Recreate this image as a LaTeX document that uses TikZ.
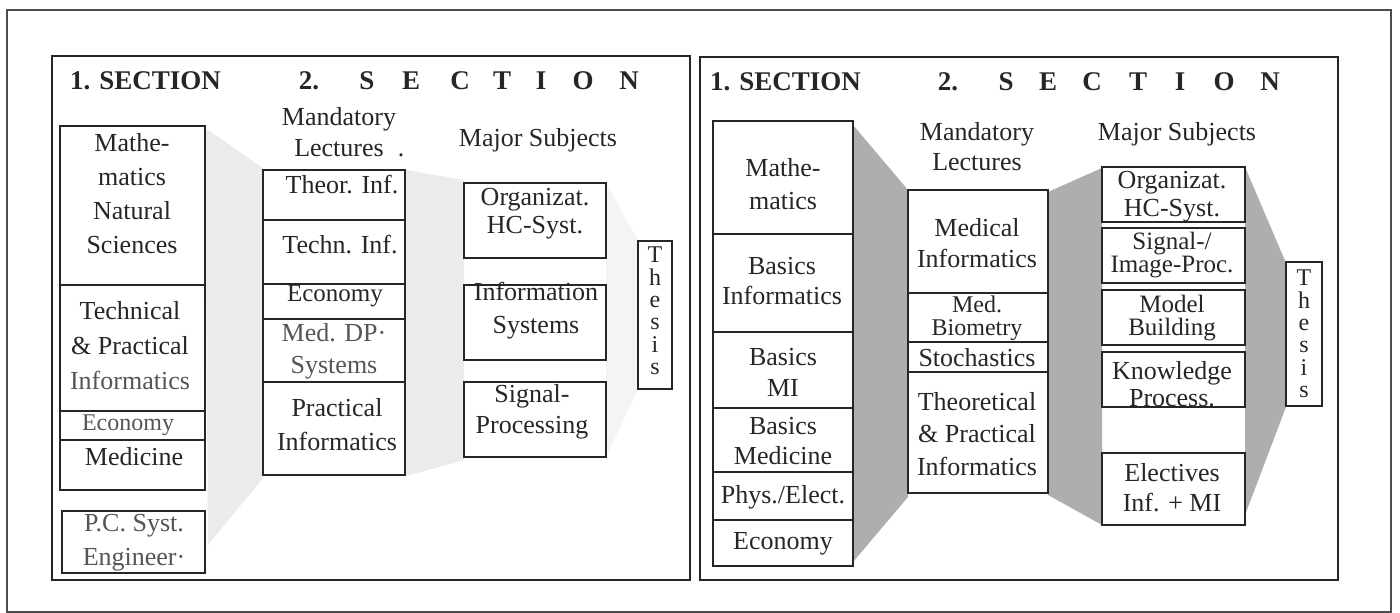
\documentclass[tikz,border=0pt]{standalone}
\usepackage{fontspec}
\setmainfont{Liberation Serif}
\newcommand\fsz[2]{\fontsize{#1}{#2}\selectfont}
\definecolor{ink}{HTML}{262626}
\definecolor{lightink}{HTML}{555555}
\definecolor{stipc}{HTML}{AEAEAE}
\definecolor{faintc}{HTML}{EBEBEB}
\definecolor{faintc2}{HTML}{F4F4F4}
\newcommand\bx[5]{\node[cell,minimum width={#4-#2},minimum height={#5-#3}] (#1) at ({(#2+#4)/2},{(#3+#5)/2}) {};}
\begin{document}
\begin{tikzpicture}[x=1pt,y=-1pt,
 cell/.style={draw=ink,line width=1.8pt,fill=white,inner sep=0pt},
 txt/.style={inner sep=0pt,align=center,text=ink,font=\fsz{26}{31}},
 hdr/.style={inner sep=0pt,anchor=base,text=ink,font=\bfseries\fsz{27}{30}},
 panel/.style={draw=ink,line width=1.8pt},
 stip/.style={fill=stipc},
 faint/.style={fill=faintc}]
\useasboundingbox (0,0) rectangle (1400,613);
\fill[white] (0,0) rectangle (1400,613);
\draw[draw=black!70,line width=1.2pt] (7,10) rectangle (1391,612);
% panels
\draw[panel] (52,56) rectangle (690,580);
\draw[panel] (700,57) rectangle (1338,580);
% shading left panel (faint)
\fill[faint] (205,128) -- (263,168) -- (263,478) -- (208,545) -- cycle;
\fill[faint] (406,170) -- (464,180) -- (464,460) -- (406,476) -- cycle;
\fill[faintc2] (606,183) -- (638,241) -- (638,389) -- (606,457) -- cycle;
% shading right panel (stipple)
\fill[stip] (853,125) -- (908,190) -- (908,497) -- (853,562) -- cycle;
\fill[stip] (1048,192) -- (1102,168) -- (1102,525) -- (1048,495) -- cycle;
\fill[stip] (1245,167) -- (1286,263) -- (1286,407) -- (1245,515) -- cycle;
% headers left
\node[hdr,anchor=base west] (l1sec) at (70,89) {1. SECTION};
\node[hdr] (l2sec) at (309,89) {2.};
\foreach \c/\x [count=\i] in {S/367,E/411,C/460,T/502,I/541,O/583,N/629}
  \node[hdr] (lh\i) at (\x,89) {\c};
\node[txt] (lmand) at (339,132) {Mandatory\\Lectures\rlap{\hspace{14pt}.}};
\node[txt] (lmaj) at (538,140) {Major Subjects};
% headers right
\node[hdr,anchor=base west] (r1sec) at (710,90) {1. SECTION};
\node[hdr] (r2sec) at (948,90) {2.};
\foreach \c/\x [count=\i] in {S/1006,E/1048,C/1092,T/1138,I/1180,O/1224,N/1270}
  \node[hdr] (rh\i) at (\x,90) {\c};
\node[txt,font=\fsz{26}{30}] (rmand) at (977,147) {Mandatory\\Lectures};
\node[txt] (rmaj) at (1177,134) {Major Subjects};
% ---------- left panel boxes ----------
\bx{la}{60}{126}{205}{285}
\bx{lb}{60}{285}{205}{411}
\bx{lc}{60}{411}{205}{440}
\bx{ld}{60}{440}{205}{490}
\bx{le}{62}{511}{205}{573}
\bx{ma}{263}{170}{405}{220}
\bx{mb}{263}{220}{405}{284}
\bx{mc}{263}{284}{405}{319}
\bx{md}{263}{319}{405}{382}
\bx{me}{263}{382}{405}{475}
\bx{sa}{464}{183}{606}{258}
\bx{sb}{464}{285}{606}{360}
\bx{sc}{464}{382}{606}{457}
\bx{lth}{638}{241}{672}{389}
\node[txt,font=\fsz{26}{34}] (lat) at (132,194) {Mathe-\\matics\\Natural\\Sciences};
\node[txt,font=\fsz{26}{35}] (lbt) at (130,346) {Technical\\\& Practical\\{\color{lightink}Informatics}};
\node[txt,font=\fsz{24}{28},text=lightink] (lct) at (128,425) {Economy};
\node[txt] (ldt) at (134,457) {Medicine};
\node[txt,font=\fsz{26}{34},text=lightink] (let) at (134,543) {P.C. Syst.\\Engineer·};
\node[txt] (mat) at (342,185) {Theor. Inf.};
\node[txt] (mbt) at (340,245) {Techn. Inf.};
\node[txt,font=\fsz{25}{30}] (mct) at (335,296) {Economy};
\node[txt,font=\fsz{26}{32},text=lightink] (mdt) at (334,351) {Med. DP·\\Systems};
\node[txt,font=\fsz{26}{34}] (met) at (337,425) {Practical\\Informatics};
\node[txt,font=\fsz{26}{28}] (sat) at (535,214) {Organizat.\\HC-Syst.};
\node[txt,font=\fsz{26}{33}] (sbt) at (536,311) {Information\\Systems};
\node[txt,font=\fsz{26}{31}] (sct) at (532,412) {Signal-\\Processing};
\node[txt,font=\fsz{24}{22.4}] (ltht) at (655,311) {T\\h\\e\\s\\i\\s};
% ---------- right panel boxes ----------
\bx{ra}{713}{121}{853}{234}
\bx{rb}{713}{234}{853}{332}
\bx{rc}{713}{332}{853}{408}
\bx{rd}{713}{408}{853}{472}
\bx{re}{713}{472}{853}{520}
\bx{rf}{713}{520}{853}{566}
\bx{na}{908}{190}{1048}{293}
\bx{nb}{908}{293}{1048}{342}
\bx{nc}{908}{342}{1048}{372}
\bx{nd}{908}{372}{1048}{493}
\bx{ta}{1102}{167}{1245}{222}
\bx{tb}{1102}{228}{1245}{283}
\bx{tc}{1102}{290}{1245}{345}
\bx{td}{1102}{352}{1245}{407}
\bx{te}{1102}{453}{1245}{525}
\bx{rth}{1286}{262}{1322}{406}
\node[txt,font=\fsz{26}{33}] (rat) at (783,184) {Mathe-\\matics};
\node[txt,font=\fsz{26}{30}] (rbt) at (782,281) {Basics\\Informatics};
\node[txt,font=\fsz{26}{31}] (rct) at (783,372) {Basics\\MI};
\node[txt,font=\fsz{26}{30}] (rdt) at (783,441) {Basics\\Medicine};
\node[txt] (ret) at (783,497) {Phys./Elect.};
\node[txt] (rft) at (783,544) {Economy};
\node[txt,font=\fsz{26}{31}] (nat) at (977,243) {Medical\\Informatics};
\node[txt,font=\fsz{24}{23}] (nbt) at (977,318) {Med.\\Biometry};
\node[txt] (nct) at (977,358) {Stochastics};
\node[txt,font=\fsz{26}{32.5}] (ndt) at (977,434) {Theoretical\\\& Practical\\Informatics};
\node[txt,font=\fsz{26}{28}] (tat) at (1172,197) {Organizat.\\HC-Syst.};
\node[txt,font=\fsz{25}{23}] (tbt) at (1172,255) {Signal-/\\Image-Proc.};
\node[txt,font=\fsz{25}{22.5}] (tct) at (1172,318) {Model\\Building};
\node[txt,font=\fsz{26}{27}] (tdt) at (1172,384) {Knowledge\\Process.};
\node[txt,font=\fsz{26}{30}] (tet) at (1172,488) {Electives\\Inf. + MI};
\node[txt,font=\fsz{24}{22.4}] (rtht) at (1304,334) {T\\h\\e\\s\\i\\s};
\end{tikzpicture}
\end{document}
